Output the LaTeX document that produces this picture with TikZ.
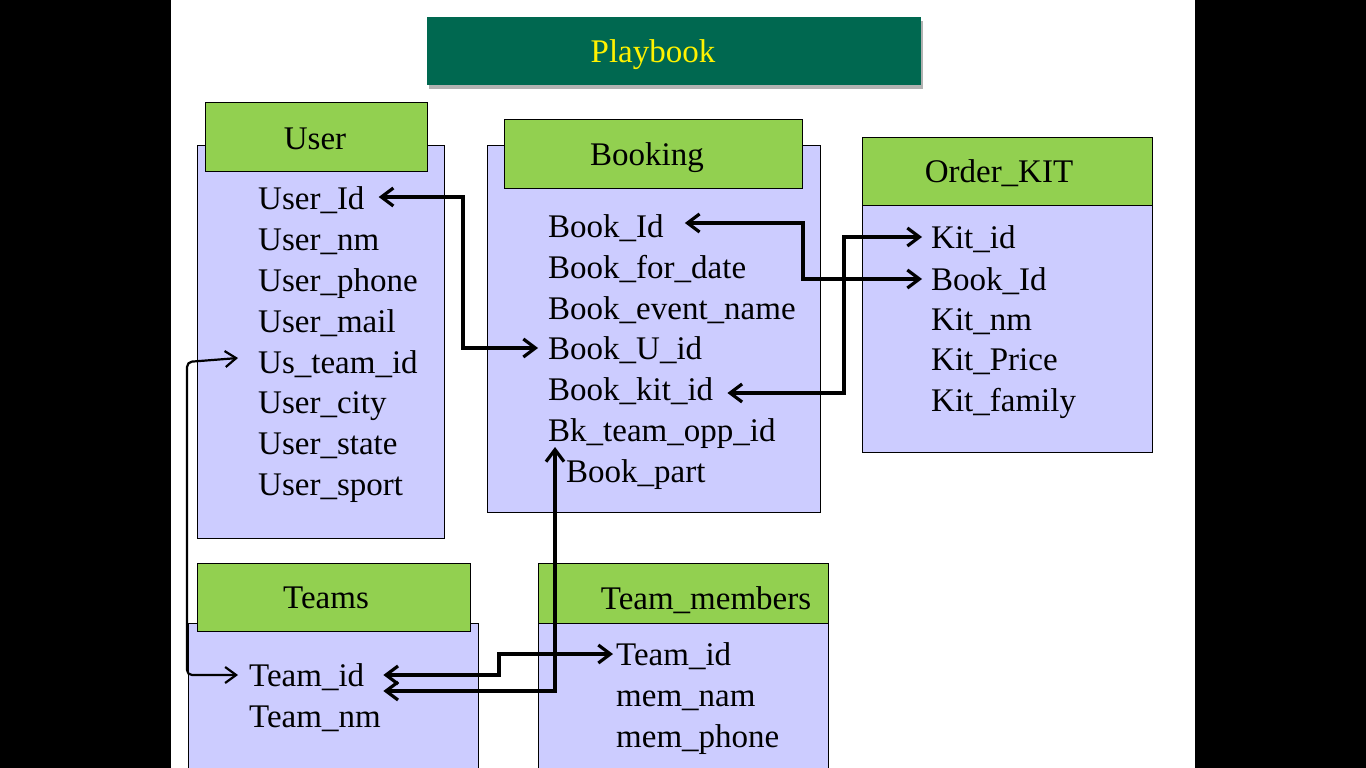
\documentclass[tikz,border=0pt]{standalone}
\usepackage{fontspec}
\setmainfont{Liberation Serif}
\usetikzlibrary{arrows.meta,calc,shadows}
\definecolor{lav}{RGB}{204,204,255}
\definecolor{hdr}{RGB}{146,208,80}
\definecolor{ttl}{RGB}{0,104,80}
\begin{document}
\begin{tikzpicture}[x=1pt,y=-1pt,
  body/.style={draw=black,line width=0.9pt,fill=lav,anchor=north west,inner sep=0pt},
  hdrbox/.style={draw=black,line width=0.9pt,fill=hdr,anchor=north west,inner sep=0pt},
  big/.style={font=\fontsize{33pt}{40pt}\selectfont},
  field/.style={big,anchor=base west,inner sep=0pt,text height=22pt,text depth=0pt},
  head/.style={big,anchor=base,inner sep=0pt},
  conn/.style={line width=3.2pt,{Straight Barb[length=12pt,width=18pt]}-{Straight Barb[length=12pt,width=18pt]}},
  connthin/.style={line width=2.2pt,rounded corners=5pt,{Straight Barb[length=11pt,width=16pt]}-{Straight Barb[length=11pt,width=16pt]}}
]
\useasboundingbox (0,0) rectangle (1366,768);
\clip (0,0) rectangle (1366,768);
% slide
\fill[black] (0,0) rectangle (1366,768);
\fill[white] (171,0) rectangle (1195,768);

% title
\node[fill=ttl,anchor=north west,inner sep=0pt,minimum width=494pt,minimum height=68pt,
  drop shadow={shadow xshift=2pt,shadow yshift=-4pt,opacity=0.3,fill=black}] (titlebox) at (427,17) {};
\node[big,anchor=base,inner sep=0pt,text=yellow] (titletext) at (653,63) {Playbook};

% User
\node[body,minimum width=247pt,minimum height=393pt] (userbody) at (197,145) {};
\node[hdrbox,minimum width=222pt,minimum height=69pt] (userhdr) at (205,102) {};
\node[head] (usertitle) at (315,149) {User};
\node[field] (uid)   at (258,209) {User\_Id};
\node[field] (unm)   at (258,250) {User\_nm};
\node[field] (uph)   at (258,291) {User\_phone};
\node[field] (uml)   at (258,332) {User\_mail};
\node[field] (ustid) at (258,373) {Us\_team\_id};
\node[field] (ucty)  at (258,413) {User\_city};
\node[field] (ust)   at (258,454) {User\_state};
\node[field] (usp)   at (258,495) {User\_sport};

% Booking
\node[body,minimum width=333pt,minimum height=367pt] (bookbody) at (487,145) {};
\node[hdrbox,minimum width=298pt,minimum height=69pt] (bookhdr) at (504,119) {};
\node[head] (booktitle) at (647,165) {Booking};
\node[field] (bid)   at (548,237) {Book\_Id};
\node[field] (bfd)   at (548,278) {Book\_for\_date};
\node[field] (ben)   at (548,319) {Book\_event\_name};
\node[field] (bu)    at (548,359) {Book\_U\_id};
\node[field] (bkit)  at (548,400) {Book\_kit\_id};
\node[field] (bk)    at (548,441) {Bk\_team\_opp\_id};
\node[field] (bpart) at (566,482) {Book\_part};

% Order_KIT
\node[body,minimum width=290pt,minimum height=315pt] (kitbody) at (862,137) {};
\node[hdrbox,minimum width=290pt,minimum height=68pt] (kithdr) at (862,137) {};
\node[head] (kittitle) at (999,182) {Order\_KIT};
\node[field] (kid)  at (931,248) {Kit\_id};
\node[field] (kbid) at (931,290) {Book\_Id};
\node[field] (knm)  at (931,330) {Kit\_nm};
\node[field] (kpr)  at (931,370) {Kit\_Price};
\node[field] (kfm)  at (931,411) {Kit\_family};

% Teams
\node[body,minimum width=290pt,minimum height=160pt] (teambody) at (188,623) {};
\node[hdrbox,minimum width=273pt,minimum height=68pt] (teamhdr) at (197,563) {};
\node[head] (teamtitle) at (326,608) {Teams};
\node[field] (tid) at (249,686) {Team\_id};
\node[field] (tnm) at (249,727) {Team\_nm};

% Team_members
\node[body,minimum width=290pt,minimum height=220pt] (tmbody) at (538,563) {};
\node[hdrbox,minimum width=290pt,minimum height=60pt] (tmhdr) at (538,563) {};
\node[head] (tmtitle) at (706,609) {Team\_members};
\node[field] (tmid) at (616,665) {Team\_id};
\node[field] (tmnm) at (616,706) {mem\_nam};
\node[field] (tmph) at (616,747) {mem\_phone};

% connectors
\draw[conn] ($(uid.east)+(14,-1)$) -| ($(bu.west)+(-85,0)$) -- ($(bu.west)+(-10,0)$);
\draw[conn] ($(bid.east)+(21,-3)$) -| ($(kbid.west)+(-128,0)$) -- ($(kbid.west)+(-9,0)$);
\draw[conn] ($(bkit.east)+(14,4)$) -| ($(kid.west)+(-87,0)$) -- ($(kid.west)+(-9,0)$);
\draw[connthin] ($(ustid.west)+(-20,-4)$) -- ($(ustid.west)+(-71,0)$) |- ($(tid.west)+(-11,0)$);
\draw[conn] ($(tid.east)+(19,0)$) -| ($(tmid.west)+(-117,0)$) -- ($(tmid.west)+(-3,0)$);
\draw[conn] ($(tid.east)+(19,16)$) -| ($(bk.base west)+(7,6)$);
\end{tikzpicture}
\end{document}
